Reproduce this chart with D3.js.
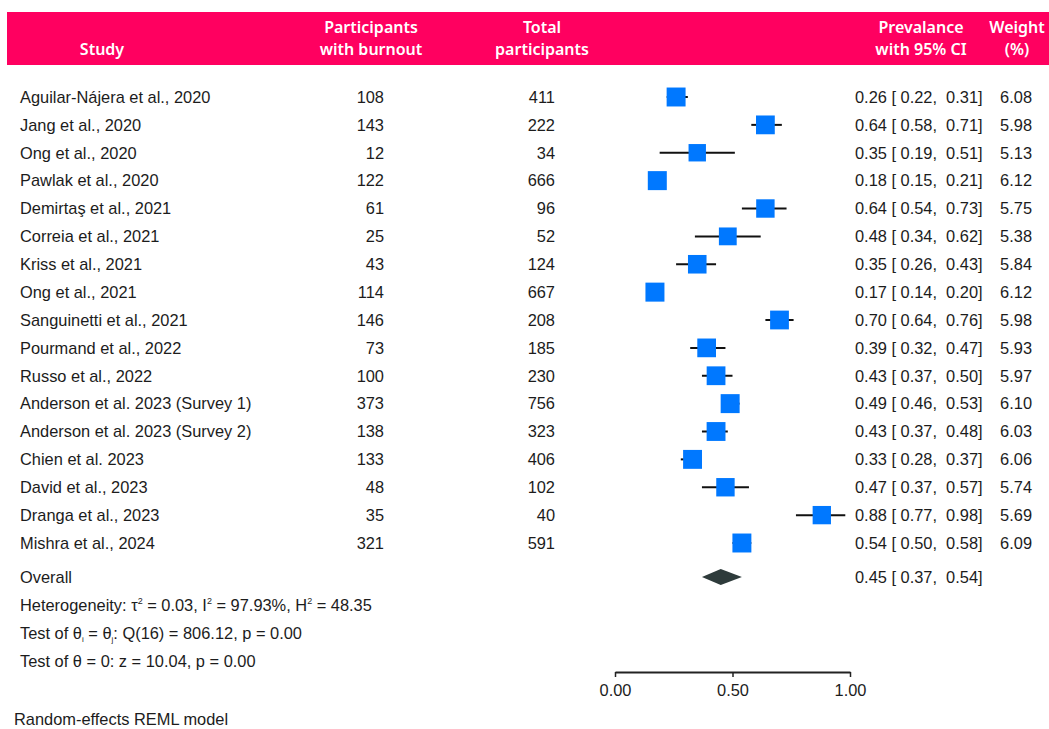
<!DOCTYPE html>
<html>
<head>
<meta charset="utf-8">
<script src="https://cdn.jsdelivr.net/npm/d3@7"></script>
<style>
  html, body { margin: 0; padding: 0; background: #fff; }
  svg { display: block; }
  text { white-space: pre; }
</style>
</head>
<body>
<svg id="chart" width="1049" height="729"></svg>
<script>
// Study-level data for the burnout prevalence meta-analysis
const studies = [
  "Aguilar-Nájera et al., 2020", "Jang et al., 2020", "Ong et al., 2020",
  "Pawlak et al., 2020", "Demirtaş et al., 2021", "Correia et al., 2021",
  "Kriss et al., 2021", "Ong et al., 2021", "Sanguinetti et al., 2021",
  "Pourmand et al., 2022", "Russo et al., 2022", "Anderson et al. 2023 (Survey 1)",
  "Anderson et al. 2023 (Survey 2)", "Chien et al. 2023", "David et al., 2023",
  "Dranga et al., 2023", "Mishra et al., 2024"
];
const burnout = [108, 143, 12, 122, 61, 25, 43, 114, 146, 73, 100, 373, 138, 133, 48, 35, 321];
const totals  = [411, 222, 34, 666, 96, 52, 124, 667, 208, 185, 230, 756, 323, 406, 102, 40, 591];
const prevalence = [0.26, 0.64, 0.35, 0.18, 0.64, 0.48, 0.35, 0.17, 0.70, 0.39, 0.43, 0.49, 0.43, 0.33, 0.47, 0.88, 0.54];
const ciLower    = [0.22, 0.58, 0.19, 0.15, 0.54, 0.34, 0.26, 0.14, 0.64, 0.32, 0.37, 0.46, 0.37, 0.28, 0.37, 0.77, 0.50];
const ciUpper    = [0.31, 0.71, 0.51, 0.21, 0.73, 0.62, 0.43, 0.20, 0.76, 0.47, 0.50, 0.53, 0.48, 0.37, 0.57, 0.98, 0.58];
const weights    = [6.08, 5.98, 5.13, 6.12, 5.75, 5.38, 5.84, 6.12, 5.98, 5.93, 5.97, 6.10, 6.03, 6.06, 5.74, 5.69, 6.09];

// Pooled random-effects estimate
const overall = { est: 0.45, lo: 0.37, hi: 0.54 };
const axisTicks = [0, 0.5, 1];

const headerLabels = [
  { lines: ["", "Study"], x: 102, anchor: "middle" },
  { lines: ["Participants", "with burnout"], x: 371, anchor: "middle" },
  { lines: ["Total", "participants"], x: 542, anchor: "middle" },
  { lines: ["Prevalance", "with 95% CI"], x: 921, anchor: "middle" },
  { lines: ["Weight", "(%)"], x: 1017, anchor: "middle" }
];

const fmt = d3.format(".2f");
const svg = d3.select("#chart");
const bodyFont = "'Liberation Sans', Arial, Helvetica, sans-serif";
const headFont = "'Noto Sans', 'Open Sans', sans-serif";
const fs = 16.4;

// Scales
const x = d3.scaleLinear().domain([0, 1]).range([615, 850]);
const y = d3.scaleLinear().domain([0, studies.length - 1]).range([97, 543]);
const size = d3.scaleSqrt().domain([0, d3.max(weights)]).range([0, 19]);

// Header band
svg.append("rect")
  .attr("x", 7).attr("y", 12).attr("width", 1042).attr("height", 53)
  .attr("fill", "#ff0060");

const head = svg.append("g")
  .attr("font-family", headFont)
  .attr("font-size", 16)
  .attr("font-weight", 600)
  .attr("fill", "#fff");
headerLabels.forEach(h => {
  h.lines.forEach((line, i) => {
    head.append("text")
      .attr("x", h.x).attr("y", 27 + i * 22)
      .attr("dy", "0.35em")
      .attr("text-anchor", h.anchor)
      .text(line);
  });
});

// Table body
const body = svg.append("g")
  .attr("font-family", bodyFont)
  .attr("font-size", fs)
  .attr("fill", "#1c1c1c");

const rows = body.selectAll("g.row")
  .data(studies.map((s, i) => ({
    study: s, n: burnout[i], total: totals[i],
    est: prevalence[i], lo: ciLower[i], hi: ciUpper[i], w: weights[i], i
  })))
  .join("g").attr("class", "row")
  .attr("transform", d => `translate(0,${y(d.i)})`);

rows.append("text").attr("x", 20).attr("dy", "0.35em").text(d => d.study);
rows.append("text").attr("x", 384).attr("dy", "0.35em").attr("text-anchor", "end").text(d => d.n);
rows.append("text").attr("x", 555).attr("dy", "0.35em").attr("text-anchor", "end").text(d => d.total);
rows.append("text").attr("x", 855).attr("dy", "0.35em")
  .text(d => `${fmt(d.est)} [ ${fmt(d.lo)},  ${fmt(d.hi)}]`);
rows.append("text").attr("x", 1032).attr("dy", "0.35em").attr("text-anchor", "end").text(d => fmt(d.w));

// Confidence intervals and weighted squares
rows.append("line")
  .attr("x1", d => x(d.lo)).attr("x2", d => x(d.hi))
  .attr("stroke", "#111").attr("stroke-width", 2);
rows.append("rect")
  .attr("x", d => x(d.est) - size(d.w) / 2)
  .attr("y", d => -size(d.w) / 2)
  .attr("width", d => size(d.w))
  .attr("height", d => size(d.w))
  .attr("fill", "#0078ff");

// Overall estimate
const yOverall = 577;
body.append("text").attr("x", 20).attr("y", yOverall).attr("dy", "0.35em").text("Overall");
body.append("text").attr("x", 855).attr("y", yOverall).attr("dy", "0.35em")
  .text(`${fmt(overall.est)} [ ${fmt(overall.lo)},  ${fmt(overall.hi)}]`);
body.append("path")
  .attr("d", d3.line()([
    [x(overall.lo), yOverall], [x(overall.est), yOverall - 8],
    [x(overall.hi), yOverall], [x(overall.est), yOverall + 8]
  ]) + "Z")
  .attr("fill", "#2e3b3b");

// Heterogeneity statistics (superscripts raised, then lowered back)
const het = body.append("text").attr("x", 20).attr("y", 605).attr("dy", "0.35em");
const sup = (t, s) => {
  t.append("tspan").attr("font-size", 9).attr("dy", -7).text(s);
};
het.append("tspan").text("Heterogeneity: τ");
sup(het, "2");
het.append("tspan").attr("dy", 7).text(" = 0.03, I");
sup(het, "2");
het.append("tspan").attr("dy", 7).text(" = 97.93%, H");
sup(het, "2");
het.append("tspan").attr("dy", 7).text(" = 48.35");

const t1 = body.append("text").attr("x", 20).attr("y", 633).attr("dy", "0.35em");
t1.append("tspan").text("Test of θ");
t1.append("tspan").attr("font-size", 8).attr("dy", 3).text("i");
t1.append("tspan").attr("dy", -3).text(" = θ");
t1.append("tspan").attr("font-size", 8).attr("dy", 3).text("j");
t1.append("tspan").attr("dy", -3).text(": Q(16) = 806.12, p = 0.00");

body.append("text").attr("x", 20).attr("y", 661).attr("dy", "0.35em")
  .text("Test of θ = 0: z = 10.04, p = 0.00");

// Axis
const axis = svg.append("g")
  .attr("transform", "translate(0,672)")
  .call(d3.axisBottom(x).tickValues(axisTicks).tickFormat(fmt).tickSize(5).tickSizeOuter(0).tickPadding(7));
axis.select(".domain").attr("stroke", "#222").attr("stroke-width", 2);
axis.selectAll(".tick line").attr("stroke", "#222").attr("stroke-width", 1.5);
axis.selectAll(".tick text")
  .attr("font-family", bodyFont).attr("font-size", fs).attr("fill", "#1c1c1c");

// Model note
svg.append("text")
  .attr("x", 14).attr("y", 725)
  .attr("font-family", bodyFont).attr("font-size", fs).attr("fill", "#1c1c1c")
  .text("Random-effects REML model");
</script>
</body>
</html>
